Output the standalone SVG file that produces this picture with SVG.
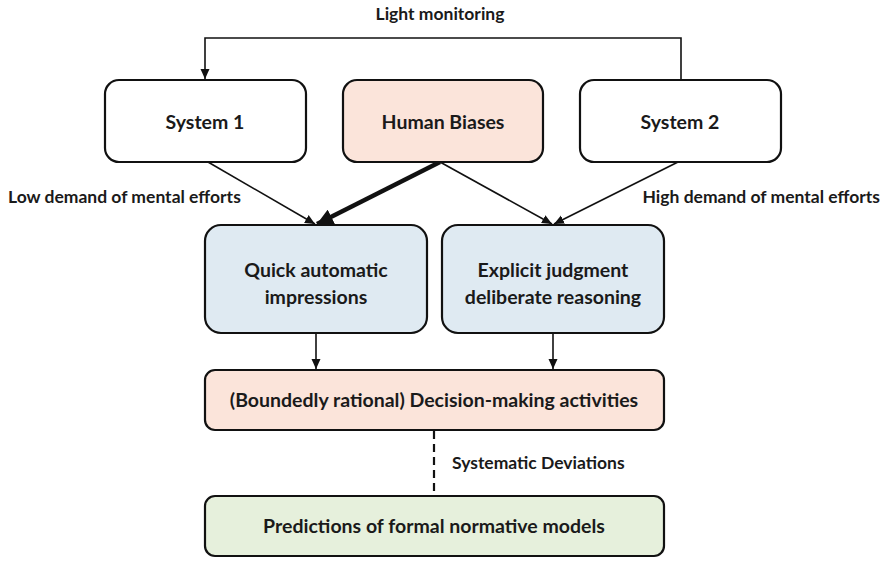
<svg xmlns="http://www.w3.org/2000/svg" width="887" height="562" viewBox="0 0 887 562">
<defs>
<style>
.box{stroke:#111;stroke-width:2.2}
.w{fill:#fff}.p{fill:#fbe4da}.b{fill:#dfeaf2}.g{fill:#e6f0dc}
.t{font-family:Lato,"Open Sans",sans-serif;font-weight:700;fill:#1a1a1a;text-anchor:middle;font-size:19.5px}
.lbl{font-family:Lato,"Open Sans",sans-serif;font-weight:700;fill:#1a1a1a;font-size:17.5px}
.c{stroke:#111;stroke-width:1.6;fill:none}
</style>
<marker id="ah" markerWidth="12" markerHeight="12" refX="10" refY="5.5" orient="auto" markerUnits="userSpaceOnUse">
<path d="M0,1 L10,5.5 L0,10 z" fill="#111"/>
</marker>
<marker id="ahb" markerWidth="18" markerHeight="16" refX="16" refY="8" orient="auto" markerUnits="userSpaceOnUse">
<path d="M0,0 L16,8 L0,16 z" fill="#111"/>
</marker>
</defs>
<g id="connectors">
<path class="c" d="M681,80 V38 H205 V79" marker-end="url(#ah)"/>
<line class="c" x1="208" y1="162" x2="315" y2="224" marker-end="url(#ah)"/>
<line x1="440" y1="162" x2="317" y2="224" stroke="#111" stroke-width="4.5" marker-end="url(#ahb)"/>
<line class="c" x1="440" y1="162" x2="552" y2="224" marker-end="url(#ah)"/>
<line class="c" x1="678" y1="162" x2="554" y2="224" marker-end="url(#ah)"/>
<line class="c" x1="316" y1="333" x2="316" y2="369" marker-end="url(#ah)"/>
<line class="c" x1="553" y1="333" x2="553" y2="369" marker-end="url(#ah)"/>
<line x1="434" y1="431" x2="434" y2="496" stroke="#111" stroke-width="2.2" stroke-dasharray="8,5"/>
<text class="lbl" x="440" y="20" text-anchor="middle">Light monitoring</text>
<text class="lbl" x="8" y="203">Low demand of mental efforts</text>
<text class="lbl" x="880" y="203" text-anchor="end">High demand of mental efforts</text>
<text class="lbl" x="452" y="469">Systematic Deviations</text>
</g>
<g id="system1"><rect class="box w" x="105" y="80" width="201" height="82" rx="14"/><text class="t" x="205" y="129">System 1</text></g>
<g id="biases"><rect class="box p" x="343" y="80" width="200" height="82" rx="14"/><text class="t" x="443" y="129">Human Biases</text></g>
<g id="system2"><rect class="box w" x="580" y="80" width="201" height="82" rx="14"/><text class="t" x="680" y="129">System 2</text></g>
<g id="quick"><rect class="box b" x="205" y="225" width="222" height="108" rx="16"/><text class="t" x="316" y="277">Quick automatic</text><text class="t" x="316" y="304">impressions</text></g>
<g id="explicit"><rect class="box b" x="442" y="225" width="222" height="108" rx="16"/><text class="t" x="553" y="277">Explicit judgment</text><text class="t" x="553" y="304">deliberate reasoning</text></g>
<g id="decision"><rect class="box p" x="205" y="370" width="459" height="60" rx="10"/><text class="t" x="434" y="407">(Boundedly rational) Decision-making activities</text></g>
<g id="predictions"><rect class="box g" x="205" y="496" width="459" height="60" rx="10"/><text class="t" x="434" y="533">Predictions of formal normative models</text></g>
</svg>
